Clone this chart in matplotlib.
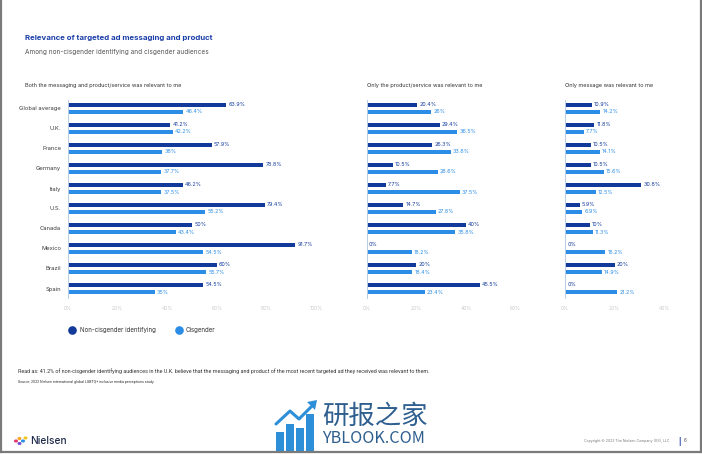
import matplotlib
matplotlib.use("Agg")
import matplotlib.pyplot as plt
from matplotlib.patches import Circle, Rectangle, Polygon
from matplotlib.lines import Line2D

W, H = 702, 454

categories = ["Global average", "U.K.", "France", "Germany", "Italy", "U.S.",
              "Canada", "Mexico", "Brazil", "Spain"]
series_names = ["Non-cisgender identifying", "Cisgender"]
panel_titles = ["Both the messaging and product/service was relevant to me",
                "Only the product/service was relevant to me",
                "Only message was relevant to me"]
both_noncis = [63.9, 41.2, 57.9, 78.8, 46.2, 79.4, 50, 91.7, 60, 54.5]
both_cis = [46.4, 42.2, 38, 37.7, 37.5, 55.2, 43.4, 54.5, 55.7, 35]
product_noncis = [20.4, 29.4, 26.3, 10.5, 7.7, 14.7, 40, 0, 20, 45.5]
product_cis = [26, 36.5, 33.8, 28.6, 37.5, 27.8, 35.8, 18.2, 18.4, 23.4]
message_noncis = [10.9, 11.8, 10.5, 10.5, 30.8, 5.9, 10, 0, 20, 0]
message_cis = [14.2, 7.7, 14.1, 15.6, 12.5, 6.9, 11.3, 16.2, 14.9, 21.2]
ticks_both = [0, 20, 40, 60, 80, 100]
ticks_product = [0, 20, 40, 60]
ticks_message = [0, 20, 40]

DARK = "#113a9b"
LIGHT = "#2b8de6"
TITLE_BLUE = "#1b3fa8"
TEXT = "#3c3c3c"
TICK = "#c9c9c9"

FONT = "Inter"
plt.rcParams["font.family"] = [FONT, "DejaVu Sans"]

fig = plt.figure(figsize=(W / 100, H / 100), dpi=100)
fig.patch.set_facecolor("white")


def fx(x):
    return x / W


def fy(y):
    return 1 - y / H


def ftext(x, y, s, **kw):
    fig.text(fx(x), fy(y), s, **kw)


# page border
for (x0, y0, x1, y1) in [(1, 0, 1, 452), (700.5, 0, 700.5, 452), (0, 452, 702, 452)]:
    fig.add_artist(Line2D([fx(x0), fx(x1)], [fy(y0), fy(y1)], color="#7a7a7a", lw=1.6))

# titles
ftext(25, 38, "Relevance of targeted ad messaging and product", fontsize=5.65,
      fontweight="bold", color=TITLE_BLUE, va="center")
ftext(25, 52, "Among non-cisgender identifying and cisgender audiences", fontsize=4.65,
      color="#555555", va="center")

panels = [
    (68, 316, 100, ticks_both, both_noncis, both_cis, 25),
    (366.7, 515.5, 60, ticks_product, product_noncis, product_cis, 367),
    (565, 664, 40, ticks_message, message_noncis, message_cis, 565),
]

top_px, bot_px = 100, 298
first_c, step = 108.5, 20.0
ylim_top = (top_px - first_c) / step
ylim_bot = (bot_px - first_c) / step
off = 3.5 / step
bh = 4.6 / step


def fmt(v):
    return f"{v:g}%"


for i, (x0, x1, xmax, ticks, s1, s2, tx) in enumerate(panels):
    ax = fig.add_axes([fx(x0), fy(bot_px), fx(x1) - fx(x0), (bot_px - top_px) / H])
    ax.set_xlim(0, xmax)
    ax.set_ylim(ylim_bot, ylim_top)
    ax.patch.set_alpha(0)
    for sp in ["top", "right", "bottom"]:
        ax.spines[sp].set_visible(False)
    ax.spines["left"].set_color("#b9cde8")
    ax.spines["left"].set_linewidth(0.7)
    ys = list(range(len(categories)))
    ax.barh([y - off for y in ys], s1, height=bh, color=DARK, lw=0)
    ax.barh([y + off for y in ys], s2, height=bh, color=LIGHT, lw=0)
    pad = xmax * 2.2 / (x1 - x0)
    for y, v in zip(ys, s1):
        ax.text(v + pad, y - off, fmt(v), fontsize=3.9, color=DARK, va="center", ha="left")
    for y, v in zip(ys, s2):
        ax.text(v + pad, y + off, fmt(v), fontsize=3.9, color=LIGHT, va="center", ha="left")
    ax.set_xticks(ticks)
    ax.set_xticklabels([f"{t}%" for t in ticks], fontsize=3.6, color=TICK)
    ax.tick_params(axis="x", length=0, pad=6)
    if i == 0:
        ax.set_yticks(ys)
        ax.set_yticklabels(categories, fontsize=4.2, color=TEXT)
        ax.tick_params(axis="y", length=0, pad=5)
    else:
        ax.set_yticks([])
    ftext(tx, 85.5, panel_titles[i], fontsize=4.0, color="#333333", va="center")

# legend
for cx, col, lab, lx in [(71.7, DARK, series_names[0], 80), (178.7, LIGHT, series_names[1], 186)]:
    fig.add_artist(Line2D([fx(cx)], [fy(330)], marker="o", markersize=5.2, color=col, lw=0))
    ftext(lx, 330, lab, fontsize=4.45, color="#333333", va="center")

# footnotes
ftext(18, 371.5, "Read as: 41.2% of non-cisgender identifying audiences in the U.K. believe that the "
      "messaging and product of the most recent targeted ad they received was relevant to them.",
      fontsize=3.85, color="#333333", va="center", family=["Roboto", "DejaVu Sans"])
ftext(18, 381.5, "Source: 2022 Nielsen international global LGBTQ+ inclusive media perceptions study",
      fontsize=2.6, color="#333333", va="center", family=["Roboto", "DejaVu Sans"])

# Nielsen logo
for (dx, dy, c) in [(16, 441, "#e8336b"), (19.5, 438.5, "#f5a623"), (19.5, 443.5, "#7b4fd1"),
                    (23, 441, "#2b8de6"), (25.5, 438, "#f0c419")]:
    fig.add_artist(Circle((fx(dx), fy(dy)), 1.3 / W, color=c, transform=fig.transFigure))
ftext(30, 441, "Nielsen", fontsize=7.3, color="#1e2a4a", va="center", fontweight="medium")

# copyright / page
ftext(669, 441, "Copyright \u00a9 2023 The Nielsen Company (US), LLC", fontsize=2.55,
      color="#777777", va="center", ha="right")
ftext(679, 441, "|", fontsize=4.5, color="#1b3fa8", va="center", ha="center", fontweight="bold")
ftext(685.5, 441, "6", fontsize=3.4, color="#555555", va="center", ha="center")

# watermark
wm = "#2f5f8f"
ftext(322, 416, "研报之家", fontsize=19, color=wm, va="center", ha="left",
      family=["Noto Sans CJK SC", "DejaVu Sans"])
ftext(322, 438.5, "YBLOOK.COM", fontsize=11.7, color=wm, va="center", ha="left",
      family=["Noto Sans CJK SC", "DejaVu Sans"])
icon = "#2d8fd8"
for bx, btop in [(276, 432), (286, 424), (296, 428), (306, 414)]:
    fig.add_artist(Rectangle((fx(bx), fy(451)), 8 / W, (451 - btop) / H, color=icon,
                             transform=fig.transFigure, lw=0))
fig.add_artist(Line2D([fx(276), fx(290), fx(299), fx(313)], [fy(424), fy(411), fy(419), fy(405)],
                      color=icon, lw=2.2, solid_capstyle="round"))
fig.add_artist(Polygon([(fx(307), fy(402)), (fx(317), fy(400)), (fx(315), fy(410))],
                       closed=True, color=icon, transform=fig.transFigure, lw=0))

fig.savefig("out.png", dpi=100, facecolor="white")
